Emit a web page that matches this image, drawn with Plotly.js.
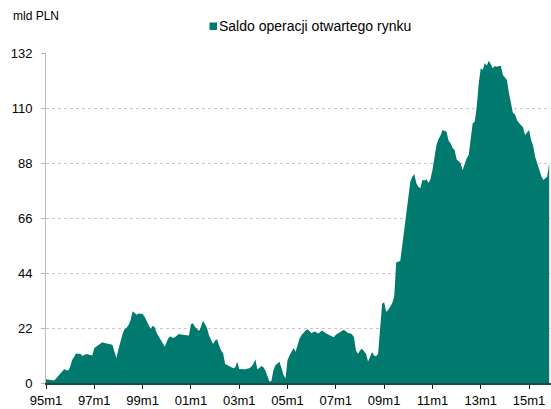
<!DOCTYPE html>
<html>
<head>
<meta charset="utf-8">
<script src="https://cdn.plot.ly/plotly-3.0.1.min.js"></script>
<style>
html,body{margin:0;padding:0;background:#fff;}
#chart{width:551px;height:409px;}
</style>
</head>
<body>
<div id="chart"></div>
<script>
// Monthly balance of open market operations, mld PLN, 1995m1 .. 2015m11
const v1995 = [1.5, 1.4, 1.2, 1.0, 1.0, 1.8, 2.8, 3.9, 4.8, 5.5, 5.2, 4.9];
const v1996 = [6.5, 9.2, 10.5, 11.9, 11.6, 11.8, 10.8, 11.2, 11.6, 11.4, 11.3, 11.0];
const v1997 = [14.0, 14.6, 15.2, 15.8, 16.3, 16.0, 15.9, 15.7, 15.6, 15.3, 12.5, 10.0];
const v1998 = [13.5, 17.2, 19.5, 21.5, 22.0, 23.2, 25.0, 28.7, 27.8, 27.3, 27.8, 27.7];
const v1999 = [27.6, 26.5, 25.0, 23.0, 21.6, 22.9, 22.3, 20.0, 18.6, 17.5, 16.0, 14.5];
const v2000 = [16.5, 18.2, 18.6, 18.0, 18.3, 18.8, 19.6, 19.4, 19.3, 19.2, 19.2, 19.0];
const v2001 = [23.5, 23.9, 22.5, 21.5, 20.8, 22.5, 24.9, 23.5, 22.0, 19.0, 17.3, 15.6];
const v2002 = [17.0, 17.5, 15.0, 13.0, 11.9, 7.6, 7.2, 6.8, 6.5, 5.9, 6.2, 8.5];
const v2003 = [5.6, 5.7, 5.5, 5.5, 5.6, 5.9, 6.5, 7.6, 9.5, 5.5, 6.0, 6.8];
const v2004 = [6.3, 5.0, 2.8, 0.6, 0.8, 5.2, 7.1, 8.0, 8.5, 6.0, 3.2, 1.9];
const v2005 = [9.2, 11.0, 12.5, 14.0, 12.5, 15.5, 17.9, 19.2, 20.3, 21.0, 21.5, 20.5];
const v2006 = [19.9, 20.5, 20.5, 19.8, 20.2, 21.0, 20.3, 19.9, 19.5, 19.0, 18.5, 18.3];
const v2007 = [19.3, 19.9, 20.5, 20.8, 21.3, 20.5, 20.0, 19.9, 19.5, 18.3, 13.0, 11.7];
const v2008 = [13.0, 13.7, 12.5, 11.7, 8.6, 10.5, 12.4, 11.0, 10.7, 11.7, 22.3, 31.7];
const v2009 = [32.3, 28.5, 29.2, 30.5, 31.9, 34.5, 48.3, 48.5, 48.8, 55.0, 61.2, 66.5];
const v2010 = [75.0, 80.5, 82.5, 83.6, 79.9, 78.5, 77.9, 81.2, 81.0, 81.5, 80.0, 81.5];
const v2011 = [85.2, 90.0, 95.2, 97.5, 99.0, 101.2, 101.0, 100.5, 97.0, 95.9, 94.0, 93.2];
const v2012 = [89.5, 88.5, 87.9, 85.2, 87.9, 89.9, 91.2, 97.2, 103.9, 104.5, 110.5, 119.9];
const v2013 = [125.9, 125.2, 127.9, 127.0, 128.9, 127.5, 125.9, 126.8, 126.5, 126.8, 126.8, 123.2];
const v2014 = [122.0, 121.2, 116.0, 111.9, 108.0, 107.5, 105.2, 104.0, 103.0, 102.3, 99.2, 100.0];
const v2015 = [101.2, 97.2, 95.0, 90.5, 88.0, 85.2, 83.0, 81.2, 82.0, 82.5, 87.9];

const tickPositions = [0, 24, 48, 72, 96, 120, 144, 168, 192, 216, 240];
const tickLabels = ['95m1','97m1','99m1','01m1','03m1','05m1','07m1','09m1','11m1','13m1','15m1'];
const yTicks = [0, 22, 44, 66, 88, 110, 132];
const seriesName = 'Saldo operacji otwartego rynku';
const unitLabel = 'mld PLN';

const values = [].concat(v1995, v1996, v1997, v1998, v1999, v2000, v2001, v2002,
  v2003, v2004, v2005, v2006, v2007, v2008, v2009, v2010, v2011, v2012, v2013, v2014, v2015);
const monthIndex = values.map((_, i) => i);

const teal = '#007a6e';
const font = "'Liberation Sans', Arial, sans-serif";

const traces = [
  {
    x: monthIndex, y: values, type: 'scatter', mode: 'lines',
    line: {width: 0, color: teal}, fill: 'tozeroy', fillcolor: teal,
    name: seriesName, showlegend: false, hoverinfo: 'x+y'
  }
];

// legend drawn manually (paper pixels converted to paper fractions)
const W = 551, H = 409, ml = 46, mr = 0, mt = 53, mb = 26;
const pw = W - ml - mr, ph = H - mt - mb;
const px = (p) => (p - ml) / pw;
const py = (p) => (H - mb - p) / ph;

const layout = {
  width: W, height: H,
  margin: {l: ml, r: mr, t: mt, b: mb, pad: 0},
  paper_bgcolor: '#fff', plot_bgcolor: '#fff',
  font: {family: font, size: 13, color: '#000'},
  showlegend: false,
  xaxis: {
    range: [0, 250.9], tickmode: 'array', tickvals: tickPositions, ticktext: tickLabels,
    ticks: 'outside', ticklen: 4, tickcolor: '#1e1e1e', tickwidth: 1,
    showline: true, linecolor: '#1d4a44', linewidth: 2,
    showgrid: false, zeroline: false,
    tickfont: {family: font, size: 13, color: '#000'}
  },
  yaxis: {
    range: [0, 132], tickmode: 'array', tickvals: yTicks,
    ticks: 'outside', ticklen: 4, tickcolor: '#b5b5b5',
    showline: true, linecolor: '#bdbdbd', linewidth: 1,
    showgrid: true, gridcolor: '#c8c8c8', griddash: 'dot', gridwidth: 1,
    zeroline: false, ticklabelstandoff: 6,
    tickfont: {family: font, size: 13, color: '#000'}
  },
  shapes: [{
    type: 'rect', xref: 'paper', yref: 'paper',
    x0: px(209.5), x1: px(217), y0: py(30), y1: py(22.5),
    fillcolor: teal, line: {width: 0}
  }],
  annotations: [
    {
      text: unitLabel, xref: 'paper', yref: 'paper',
      x: px(11), y: py(16), xanchor: 'left', yanchor: 'middle', showarrow: false,
      font: {family: font, size: 12, color: '#000'}
    },
    {
      text: seriesName, xref: 'paper', yref: 'paper',
      x: px(217), y: py(26), xanchor: 'left', yanchor: 'middle', showarrow: false,
      font: {family: font, size: 14, color: '#000'}
    }
  ]
};

Plotly.newPlot('chart', traces, layout, {displayModeBar: false, staticPlot: true});
</script>
</body>
</html>
